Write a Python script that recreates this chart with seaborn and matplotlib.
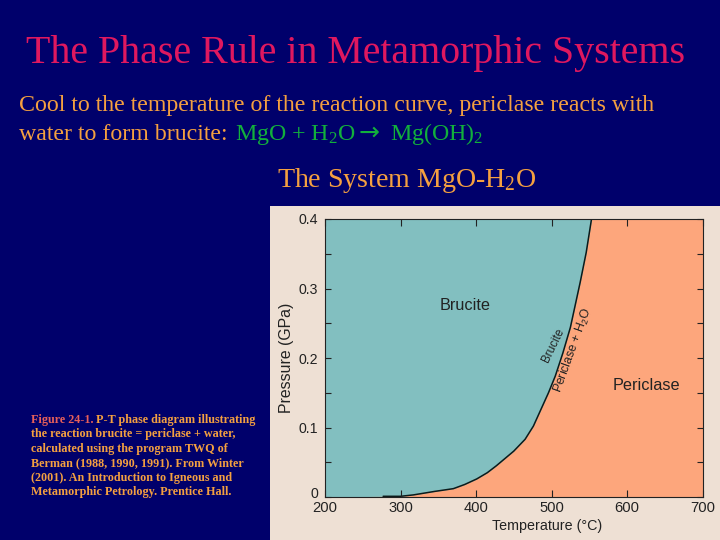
import matplotlib
matplotlib.use('Agg')
import matplotlib.pyplot as plt
from matplotlib.patches import Rectangle
from matplotlib.transforms import ScaledTranslation
import numpy as np
import seaborn as sns

# reaction curve
temperature = [277, 300, 317, 345, 370, 385, 401, 415, 427, 450, 465, 476, 486, 496, 505, 515, 525, 538, 546, 553]
pressure = [0.001, 0.001, 0.003, 0.008, 0.012, 0.018, 0.026, 0.035, 0.045, 0.066, 0.083, 0.102, 0.126, 0.150, 0.174, 0.207, 0.244, 0.309, 0.352, 0.400]
x_ticks = [200, 300, 400, 500, 600, 700]
y_ticks = [0, 0.1, 0.2, 0.3, 0.4]
y_tick_labels = ['0', '0.1', '0.2', '0.3', '0.4']
y_minor_ticks = [0.05, 0.15, 0.25, 0.35]

caption_lines = [
    'the reaction brucite = periclase + water,',
    'calculated using the program TWQ of',
    'Berman (1988, 1990, 1991). From Winter',
    '(2001). An Introduction to Igneous and',
    'Metamorphic Petrology. Prentice Hall.',
]

navy = '#00006b'
orange = '#f4a040'
green = '#12b03c'
pink = '#e0185f'
ink = '#222222'
serif = 'Liberation Serif'
sans = 'Liberation Sans'

sns.set_theme(style='ticks')
plt.rcParams['font.family'] = [sans, 'DejaVu Sans']
plt.rcParams['mathtext.fontset'] = 'custom'
plt.rcParams['mathtext.rm'] = serif
plt.rcParams['mathtext.sf'] = sans

W, H = 720, 540
fig = plt.figure(figsize=(7.2, 5.4), dpi=100, facecolor=navy)


def put(x, y, s, color=orange, size=16, **kw):
    # x, y are picture pixels, y is the text baseline
    kw.setdefault('family', serif)
    return fig.text(x / W, 1 - y / H, s, color=color, fontsize=size, va='baseline', **kw)


# slide text
put(26, 63, 'The Phase Rule in Metamorphic Systems', pink, 28.75)
put(19, 111, 'Cool to the temperature of the reaction curve, periclase reacts with', orange, 17.2)
put(19, 140, 'water to form brucite:', orange, 17.2)
put(235, 140, r'MgO + H$\mathrm{_2}$O', green, 17.2)
put(359, 140, '→', green, 18, family='DejaVu Sans')
put(390, 140, r'Mg(OH)$\mathrm{_2}$', green, 17.2)
put(277, 187, r'The System MgO-H$\mathrm{_2}$O', orange, 20.1)

put(31, 423, 'Figure 24-1.', '#e8605a', 8.7, weight='bold')
put(96, 423, 'P-T phase diagram illustrating', orange, 8.7, weight='bold')
for i, line in enumerate(caption_lines):
    put(31, 437.5 + i * 14.4, line, orange, 8.7, weight='bold')

# figure panel behind the axes
fig.add_artist(Rectangle((270 / W, 0), 450 / W, 334 / H, transform=fig.transFigure,
                         facecolor='#eee0d4', edgecolor='none', zorder=-1))

ax = fig.add_axes([325 / W, 1 - 497 / H, 377.5 / W, 278 / H])
ax.set_xlim(200, 700)
ax.set_ylim(0, 0.4)
ax.set_axisbelow(False)

# the two fields either side of the curve
t_fill = np.array([200] + temperature + [553])
p_fill = np.array([0] + pressure + [0.4])
ax.set_facecolor('#fda67c')
ax.fill_betweenx(p_fill, 200, t_fill, color='#82bfc0', linewidth=0)
sns.lineplot(x=temperature, y=pressure, color='#0c1a1a', linewidth=1.1, ax=ax, sort=False,
             estimator=None, legend=False)

ax.set_xticks(x_ticks)
ax.set_yticks(y_ticks)
ax.set_yticklabels(y_tick_labels)
ax.set_yticks(y_minor_ticks, minor=True)
ax.tick_params(axis='both', which='both', direction='in', top=True, right=True,
               color=ink, width=0.8, labelsize=10.6, labelcolor=ink)
ax.tick_params(axis='x', length=5, pad=3)
ax.tick_params(axis='y', which='both', length=4, pad=5, labelsize=10.2)
# the 0 label sits a little above its tick, clear of the 200
zero_label = ax.get_yticklabels()[0]
zero_label.set_transform(zero_label.get_transform() + ScaledTranslation(0, 3 / 72, fig.dpi_scale_trans))
for s in ax.spines.values():
    s.set_linewidth(0.8)
    s.set_color(ink)
ax.set_xlabel('Temperature (°C)', fontsize=10.3, color=ink, labelpad=3, x=(547 - 325) / 377.5)
ax.set_ylabel('Pressure (GPa)', fontsize=11.4, color=ink, labelpad=3, y=0.5)

ax.text(385, 0.276, 'Brucite', fontsize=11.7, color=ink, ha='center', va='center')
ax.text(626, 0.160, 'Periclase', fontsize=11.7, color=ink, ha='center', va='center')
ax.text(502, 0.218, 'Brucite', fontsize=8.4, color=ink, ha='center', va='center', rotation=64)
ax.text(529, 0.2115, r'Periclase + H$\mathsf{_2}$O', fontsize=8.8, color=ink, ha='center', va='center', rotation=70)

fig.savefig('out.png', dpi=100, facecolor=navy)
